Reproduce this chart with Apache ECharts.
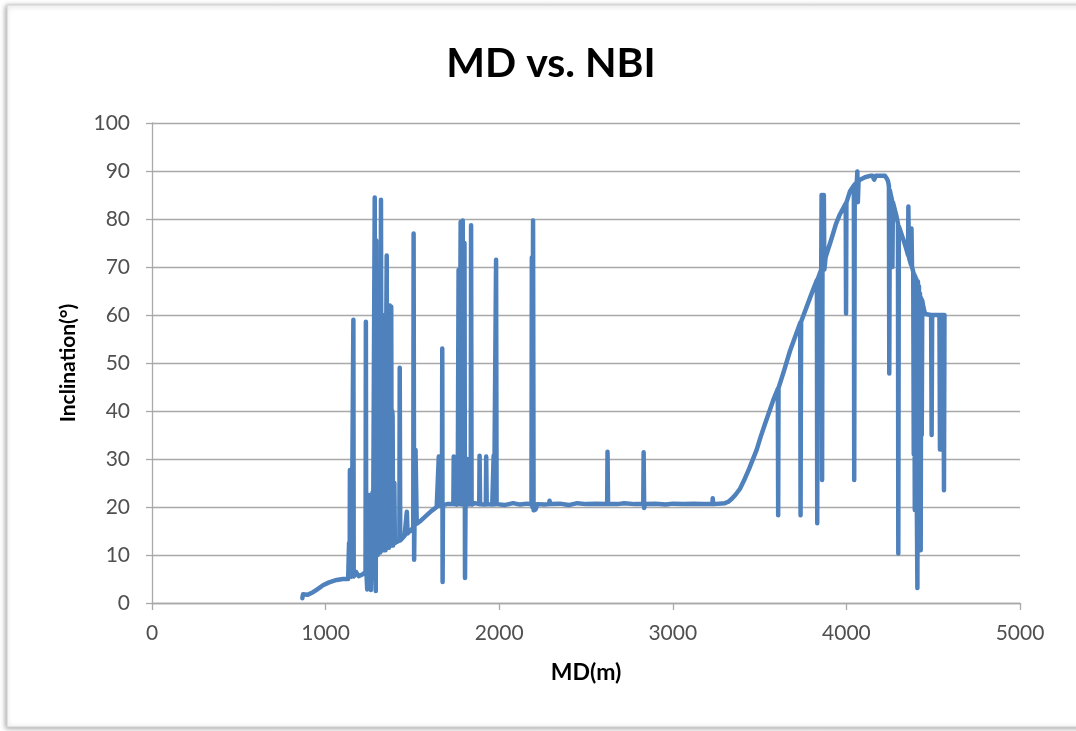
<!DOCTYPE html>
<html>
<head>
<meta charset="utf-8">
<title>MD vs. NBI</title>
<script src="https://cdn.jsdelivr.net/npm/echarts@6/dist/echarts.min.js"></script>
<style>
  html, body { margin: 0; padding: 0; background: #fff; }
  #chart { width: 1076px; height: 731px; }
</style>
</head>
<body>
<div id="chart"></div>
<script>
  // [MD (m), inclination (deg)], in drilling order
  // shallow build section with the noisy spikes
  const buildSection = [
    [866, 1.0], [870, 1.8], [880, 2.0], [895, 1.7], [905, 2.0], [925, 2.2], [950, 2.8], [985, 3.7],
    [1020, 4.3], [1064, 4.8], [1100, 5.0], [1130, 5.0], [1133, 5.1], [1135, 12.5], [1137, 6], [1139, 12],
    [1140, 27.7], [1143, 27.7], [1145, 6], [1150, 5.5], [1158, 5.4], [1160, 59], [1162, 5.5], [1170, 5.4],
    [1175, 6.5], [1190, 5.6], [1200, 5.5], [1215, 6], [1225, 6.2], [1230, 6.5], [1232, 58.6], [1234, 7],
    [1240, 2.8], [1243, 8], [1248, 22.5], [1251, 8], [1258, 8.5], [1261, 2.7], [1264, 9], [1270, 23],
    [1273, 9], [1280, 9], [1283, 84.5], [1286, 9.5], [1289, 2.5], [1292, 75.5], [1294, 10], [1296, 50],
    [1298, 40], [1300, 10], [1302, 60], [1304, 70], [1307, 12], [1310, 65], [1312, 55], [1315, 10.5],
    [1317, 50], [1319, 84], [1322, 11], [1324, 55], [1326, 30], [1329, 11], [1331, 45], [1334, 58],
    [1337, 11], [1340, 60], [1342, 45], [1345, 11], [1348, 50], [1352, 72.4], [1356, 11.5], [1358, 55],
    [1362, 35], [1365, 11.5], [1367, 45], [1370, 62], [1373, 12], [1375, 50], [1378, 61.7], [1381, 12],
    [1384, 40], [1386, 39], [1389, 12], [1396, 25], [1399, 12.5], [1410, 12.8], [1425, 13], [1427, 49],
    [1430, 13], [1440, 13.3], [1455, 14], [1466, 14.3], [1468, 19], [1472, 14.5], [1490, 15.2],
    [1505, 15.6], [1507, 77], [1510, 9], [1512, 16], [1516, 16.2], [1518, 31.9], [1522, 31.9], [1525, 16.5],
    [1550, 17.2], [1580, 18.2], [1610, 19.2], [1640, 20], [1650, 20.1], [1652, 30.5], [1655, 20.2],
    [1670, 20.4], [1672, 53], [1674, 4.4], [1676, 20.4], [1700, 20.6]
  ];

  // tangent section near 20.6 deg
  const tangentSection = [
    [1736, 20.6], [1738, 30.5], [1741, 20.6], [1755, 20.5], [1758, 30], [1761, 20.6], [1764, 20.6],
    [1766, 69.4], [1770, 20.6], [1776, 20.5], [1778, 79.4], [1781, 20.5], [1788, 20.5], [1790, 79.7],
    [1793, 20.5], [1798, 20.5], [1800, 75], [1803, 5.2], [1806, 20.6], [1813, 20.5], [1815, 30],
    [1818, 20.5], [1836, 20.6], [1838, 78.7], [1841, 20.5], [1860, 20.8], [1885, 20.6], [1887, 30.7],
    [1890, 20.6], [1910, 20.5], [1923, 20.5], [1925, 30.5], [1928, 20.6], [1960, 20.5], [1966, 20.6],
    [1968, 30.7], [1971, 20.5], [1980, 20.6], [1982, 71.5], [1985, 20.6], [2030, 20.4], [2080, 20.8],
    [2120, 20.5], [2160, 20.7], [2186, 20.6], [2188, 72], [2191, 20], [2195, 79.7], [2198, 19.3],
    [2210, 19.5], [2220, 20.6], [2260, 20.5], [2288, 20.6], [2290, 21.3], [2293, 20.6], [2350, 20.7],
    [2400, 20.4], [2450, 20.8], [2500, 20.6], [2560, 20.7], [2622, 20.6], [2624, 31.5], [2627, 20.7],
    [2680, 20.6], [2720, 20.8], [2780, 20.6], [2830, 20.6], [2832, 31.4], [2835, 19.8], [2840, 20.6],
    [2900, 20.7], [2960, 20.5], [3000, 20.7], [3060, 20.6], [3120, 20.7], [3180, 20.6], [3228, 20.6],
    [3230, 21.8], [3233, 20.6], [3300, 20.8]
  ];

  // second build up to horizontal, then the drop with spikes
  const horizontalSection = [
    [3320, 21.1], [3340, 21.7], [3360, 22.5], [3387, 23.8], [3410, 25.5], [3440, 28], [3460, 29.8],
    [3483, 31.9], [3505, 34.5], [3530, 37.2], [3555, 39.8], [3579, 42.3], [3605, 44.6], [3607, 18.3],
    [3609, 44.8], [3640, 48.3], [3675, 52.5], [3700, 55], [3720, 57], [3734, 58.4], [3736, 18.3],
    [3739, 58.6], [3771, 61.7], [3800, 64.5], [3830, 67.3], [3832, 16.6], [3835, 67.5], [3855, 69.5],
    [3857, 85], [3860, 25.6], [3863, 85], [3867, 71], [3870, 85], [3873, 69.5], [3880, 72], [3915, 76],
    [3940, 79], [3963, 81], [3996, 83.2], [3998, 60.3], [4000, 83.4], [4021, 85.8], [4043, 87],
    [4045, 25.6], [4048, 87.2], [4060, 87.6], [4063, 89.9], [4066, 83.5], [4070, 88], [4090, 88.4],
    [4107, 88.7], [4136, 89], [4150, 89], [4160, 88.2], [4170, 89], [4222, 89], [4235, 88.3],
    [4241, 87.7], [4245, 86.8], [4247, 47.8], [4250, 86], [4262, 84], [4265, 70], [4268, 83.5],
    [4289, 80.5], [4297, 79], [4299, 10.3], [4302, 78.5], [4330, 75.5], [4347, 73.5], [4355, 72.5],
    [4357, 82.6], [4360, 72], [4372, 70.5], [4375, 78], [4378, 70], [4385, 69], [4388, 31], [4391, 68.5],
    [4394, 19.4], [4397, 68], [4400, 30], [4403, 67.5], [4406, 19], [4409, 3.1], [4412, 67], [4415, 11],
    [4418, 66], [4421, 19], [4424, 64.5], [4428, 11], [4431, 63.5], [4434, 35], [4437, 63], [4443, 61.7],
    [4453, 60.2], [4488, 60], [4491, 35], [4494, 60], [4536, 60], [4539, 32], [4542, 60], [4559, 60],
    [4562, 23.5], [4565, 60]
  ];

  const xTicks = [0, 1000, 2000, 3000, 4000, 5000];
  const yTicks = [0, 10, 20, 30, 40, 50, 60, 70, 80, 90, 100];

  const points = buildSection.concat(tangentSection, horizontalSection);
  const font = 'Lato, "Open Sans", sans-serif';
  const gridGray = '#a9a9a9';

  const myChart = echarts.init(document.getElementById('chart'));
  myChart.setOption({
    animation: false,
    backgroundColor: '#fff',
    graphic: [
      {
        // chart frame with its shadow
        type: 'rect',
        z: -10,
        shape: { x: 7, y: 5, width: 1100, height: 722 },
        style: {
          fill: '#fff',
          stroke: '#d0d0d0',
          lineWidth: 1,
          shadowBlur: 5,
          shadowOffsetX: -1,
          shadowOffsetY: 1,
          shadowColor: 'rgba(0,0,0,0.35)'
        }
      }
    ],
    title: {
      text: 'MD vs. NBI',
      left: 546,
      top: 38,
      textAlign: 'center',
      textStyle: { fontFamily: font, fontSize: 41, fontWeight: 'bold', color: '#000' }
    },
    grid: { left: 152, right: 56, top: 123, bottom: 128 },
    xAxis: {
      type: 'value',
      min: xTicks[0],
      max: xTicks[xTicks.length - 1],
      interval: 1000,
      name: 'MD(m)',
      nameLocation: 'middle',
      nameGap: 58,
      nameTextStyle: { fontFamily: font, fontSize: 23, fontWeight: 'bold', color: '#000' },
      axisLine: { show: true, lineStyle: { color: gridGray, width: 1.3 } },
      axisTick: { show: true, length: 7, lineStyle: { color: gridGray, width: 1.3 } },
      axisLabel: { fontFamily: font, fontSize: 21, color: '#505050', margin: 20, formatter: v => String(v) },
      splitLine: { show: false }
    },
    yAxis: {
      type: 'value',
      min: yTicks[0],
      max: yTicks[yTicks.length - 1],
      interval: 10,
      name: 'Inclination(°)',
      nameLocation: 'middle',
      nameRotate: 90,
      nameGap: 73,
      nameTextStyle: { fontFamily: font, fontSize: 21, fontWeight: 'bold', color: '#000' },
      axisLine: { show: true, lineStyle: { color: gridGray, width: 1.3 } },
      axisTick: { show: true, length: 6, lineStyle: { color: gridGray, width: 1.3 } },
      axisLabel: { fontFamily: font, fontSize: 21, color: '#505050', margin: 22 },
      splitLine: { show: true, lineStyle: { color: gridGray, width: 1.3 } }
    },
    series: [
      {
        name: 'NBI',
        type: 'line',
        data: points,
        showSymbol: false,
        symbol: 'none',
        lineStyle: { color: '#4f81bd', width: 4.5, join: 'round', cap: 'round' }
      }
    ]
  });
</script>
</body>
</html>
